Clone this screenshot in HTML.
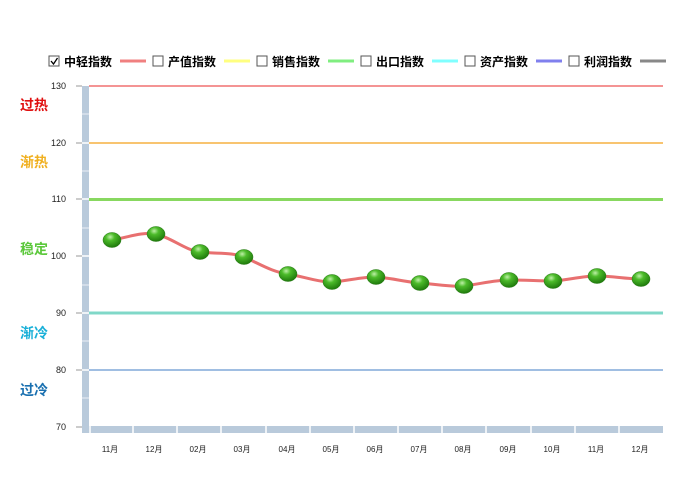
<!DOCTYPE html>
<html><head><meta charset="utf-8"><style>
body{margin:0;background:#fff;width:692px;height:477px;overflow:hidden}
svg text{font-family:"Liberation Sans","Noto Sans CJK SC",sans-serif}
</style></head><body>
<svg width="692" height="477" xmlns="http://www.w3.org/2000/svg">
<defs>
<radialGradient id="g" cx="0.4" cy="0.3" r="0.7">
<stop offset="0" stop-color="#bff0a8"/><stop offset="0.35" stop-color="#4cbb2a"/><stop offset="1" stop-color="#1f7a0c"/>
</radialGradient>
</defs>
<!-- legend -->
<g font-size="12" font-weight="bold" fill="#000">
<rect x="49" y="56" width="10" height="10" fill="#fff" stroke="#555"/><path d="M51 61 l2.5 3 l4 -6" stroke="#000" fill="none" stroke-width="1.3"/>
<text x="64" y="66">中轻指数</text><line x1="120" y1="61" x2="146" y2="61" stroke="#f08080" stroke-width="3"/>
<rect x="153" y="56" width="10" height="10" fill="#fff" stroke="#555"/><text x="168" y="66">产值指数</text><line x1="224" y1="61" x2="250" y2="61" stroke="#ffff80" stroke-width="3"/>
<rect x="257" y="56" width="10" height="10" fill="#fff" stroke="#555"/><text x="272" y="66">销售指数</text><line x1="328" y1="61" x2="354" y2="61" stroke="#80ee80" stroke-width="3"/>
<rect x="361" y="56" width="10" height="10" fill="#fff" stroke="#555"/><text x="376" y="66">出口指数</text><line x1="432" y1="61" x2="458" y2="61" stroke="#80ffff" stroke-width="3"/>
<rect x="465" y="56" width="10" height="10" fill="#fff" stroke="#555"/><text x="480" y="66">资产指数</text><line x1="536" y1="61" x2="562" y2="61" stroke="#8080ee" stroke-width="3"/>
<rect x="569" y="56" width="10" height="10" fill="#fff" stroke="#555"/><text x="584" y="66">利润指数</text><line x1="640" y1="61" x2="666" y2="61" stroke="#888" stroke-width="3"/>
</g>
<!-- y axis bar -->
<rect x="82" y="86" width="7" height="347" fill="#b9cadb"/>
<g stroke="#fff" stroke-width="1.5">
<line x1="82" y1="143" x2="89" y2="143"/><line x1="82" y1="199" x2="89" y2="199"/><line x1="82" y1="256" x2="89" y2="256"/><line x1="82" y1="313" x2="89" y2="313"/><line x1="82" y1="370" x2="89" y2="370"/><line x1="82" y1="427" x2="89" y2="427"/>
</g>
<g stroke="#fff" stroke-width="1" opacity="0.7">
<line x1="82" y1="114" x2="89" y2="114"/><line x1="82" y1="171" x2="89" y2="171"/><line x1="82" y1="228" x2="89" y2="228"/><line x1="82" y1="285" x2="89" y2="285"/><line x1="82" y1="341" x2="89" y2="341"/><line x1="82" y1="398" x2="89" y2="398"/>
</g>
<!-- x axis bar -->
<rect x="82" y="426" width="581" height="7" fill="#b9cadb"/>
<g stroke="#fff" stroke-width="1.5">
<line x1="90" y1="426" x2="90" y2="433"/><line x1="133" y1="426" x2="133" y2="433"/><line x1="177" y1="426" x2="177" y2="433"/><line x1="221" y1="426" x2="221" y2="433"/><line x1="266" y1="426" x2="266" y2="433"/><line x1="310" y1="426" x2="310" y2="433"/><line x1="354" y1="426" x2="354" y2="433"/><line x1="398" y1="426" x2="398" y2="433"/><line x1="442" y1="426" x2="442" y2="433"/><line x1="486" y1="426" x2="486" y2="433"/><line x1="531" y1="426" x2="531" y2="433"/><line x1="575" y1="426" x2="575" y2="433"/><line x1="619" y1="426" x2="619" y2="433"/>
</g>
<!-- y ticks -->
<g stroke="#999"><line x1="76" y1="86" x2="82" y2="86"/><line x1="76" y1="143" x2="82" y2="143"/><line x1="76" y1="199" x2="82" y2="199"/><line x1="76" y1="256" x2="82" y2="256"/><line x1="76" y1="313" x2="82" y2="313"/><line x1="76" y1="370" x2="82" y2="370"/><line x1="76" y1="427" x2="82" y2="427"/></g>
<g font-size="9" fill="#222" text-anchor="end">
<text x="66" y="89">130</text><text x="66" y="146">120</text><text x="66" y="202">110</text><text x="66" y="259">100</text><text x="66" y="316">90</text><text x="66" y="373">80</text><text x="66" y="430">70</text>
</g>
<!-- zone labels -->
<g font-size="14" font-weight="bold">
<text x="20" y="110" fill="#e01010">过热</text>
<text x="20" y="167" fill="#f0b020">渐热</text>
<text x="20" y="254" fill="#5cc83c">稳定</text>
<text x="20" y="338" fill="#1ab0d8">渐冷</text>
<text x="20" y="395" fill="#1a70b0">过冷</text>
</g>
<!-- reference lines -->
<line x1="89" y1="86" x2="663" y2="86" stroke="#f07070" stroke-width="1.5"/>
<line x1="89" y1="143" x2="663" y2="143" stroke="#f5b040" stroke-width="1.5"/>
<line x1="89" y1="199.5" x2="663" y2="199.5" stroke="#88d860" stroke-width="3"/>
<line x1="89" y1="313" x2="663" y2="313" stroke="#80d8c8" stroke-width="3"/>
<line x1="89" y1="370" x2="663" y2="370" stroke="#80a8d8" stroke-width="1.5"/>
<!-- x labels -->
<g font-size="8" fill="#222" text-anchor="middle">
<text x="110" y="452">11月</text><text x="154" y="452">12月</text><text x="198" y="452">02月</text><text x="242" y="452">03月</text><text x="287" y="452">04月</text><text x="331" y="452">05月</text><text x="375" y="452">06月</text><text x="419" y="452">07月</text><text x="463" y="452">08月</text><text x="508" y="452">09月</text><text x="552" y="452">10月</text><text x="596" y="452">11月</text><text x="640" y="452">12月</text>
</g>
<!-- series -->
<path d="M112 240 C130 237,140 232,156 234 C172 238,185 250,200 252 C215 254,232 252,244 257 C260 264,272 272,288 274 C305 277,318 282,332 282 C348 281,360 277,376 277 C392 278,405 282,420 283 C435 284,450 287,464 286 C480 284,495 280,509 280 C525 280,540 281,553 281 C568 280,582 276,597 276 C612 276,628 279,641 279" stroke="#e87070" stroke-width="3" fill="none"/>
<g fill="url(#g)" stroke="#2a7a18" stroke-width="0.5">
<ellipse cx="112" cy="240" rx="9" ry="7.5"/><ellipse cx="156" cy="234" rx="9" ry="7.5"/><ellipse cx="200" cy="252" rx="9" ry="7.5"/><ellipse cx="244" cy="257" rx="9" ry="7.5"/><ellipse cx="288" cy="274" rx="9" ry="7.5"/><ellipse cx="332" cy="282" rx="9" ry="7.5"/><ellipse cx="376" cy="277" rx="9" ry="7.5"/><ellipse cx="420" cy="283" rx="9" ry="7.5"/><ellipse cx="464" cy="286" rx="9" ry="7.5"/><ellipse cx="509" cy="280" rx="9" ry="7.5"/><ellipse cx="553" cy="281" rx="9" ry="7.5"/><ellipse cx="597" cy="276" rx="9" ry="7.5"/><ellipse cx="641" cy="279" rx="9" ry="7.5"/>
</g>
</svg>
</body></html>
